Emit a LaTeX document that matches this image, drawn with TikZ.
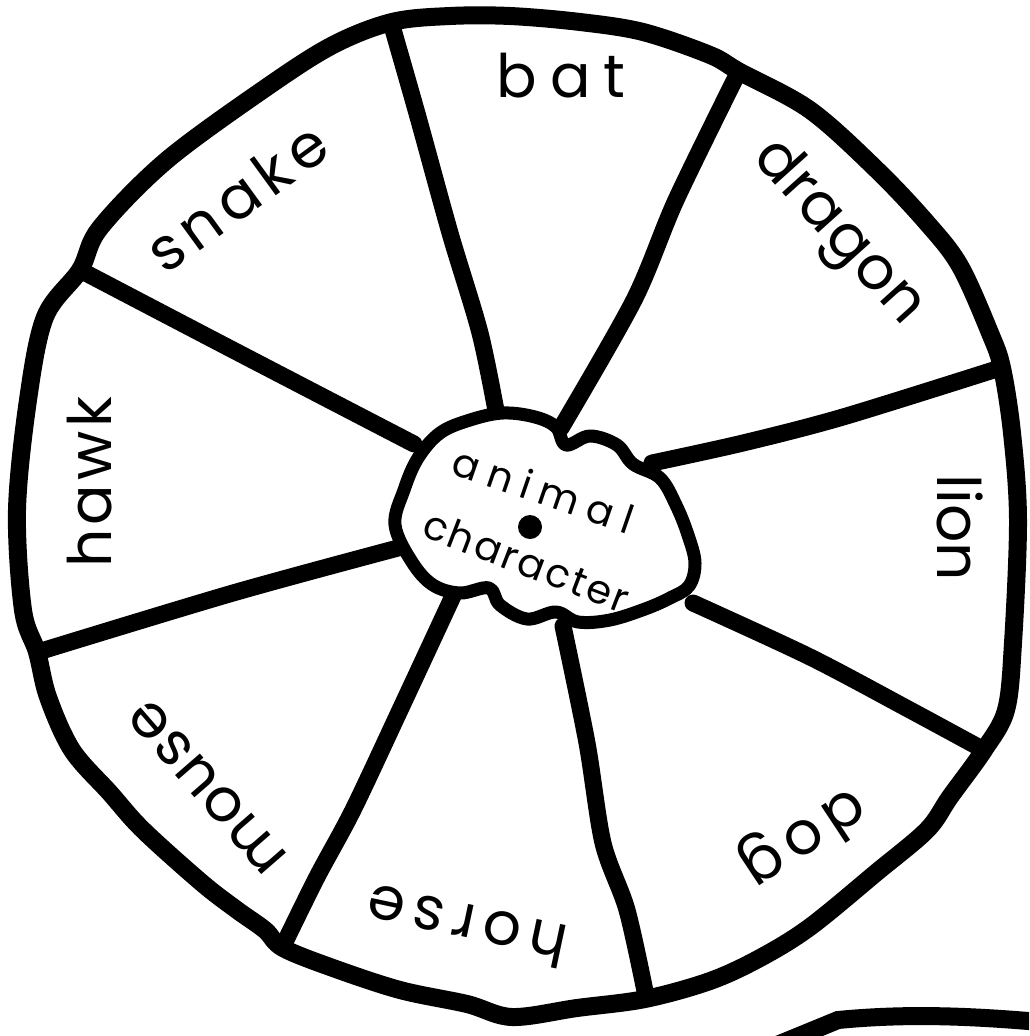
\documentclass[tikz,border=0pt]{standalone}
\usepackage{fontspec}
\setmainfont{Poppins}
\newcommand\wordsp[2]{{\addfontfeatures{LetterSpace=#1}#2}}
\begin{document}
\begin{tikzpicture}[x=1pt,y=-1pt,
  rim/.style={line width=18pt, line join=round},
  spoke/.style={line width=17pt, line cap=round, line join=round},
  cloudline/.style={line width=13pt, fill=white, line join=round},
  lbl/.style={font=\fontsize{60}{64}\selectfont, inner sep=0pt, text height=32pt, text depth=0pt},
  clbl/.style={font=\fontsize{40}{42}\selectfont, inner sep=0pt, text height=21pt, text depth=0pt}]
\fill[white] (0,0) rectangle (1029,1036);
\clip (0,0) rectangle (1029,1036);

% rim junctions (outer ends of spokes)
\coordinate (o1) at (392,26);
\coordinate (o2) at (738,73);
\coordinate (o3) at (1000,368);
\coordinate (o4) at (982,749);
\coordinate (o5) at (646,996);
\coordinate (o6) at (284,944);
\coordinate (o7) at (38,652);
\coordinate (o8) at (80,270);
% inner ends at the cloud
\coordinate (c1) at (497,416);
\coordinate (c2) at (561,428);
\coordinate (c3) at (652,463);
\coordinate (c4) at (693,603);
\coordinate (c5) at (563,626);
\coordinate (c6) at (453,596);
\coordinate (c7) at (398,548);
\coordinate (c8) at (414,444);
\coordinate (ctr) at (530,527);

% spokes
\draw[spoke] plot[smooth] coordinates {(o1) (418,117) (450,233) (480,333) (c1)};
\draw[spoke] plot[smooth] coordinates {(o2) (676,200) (634,300) (c2)};
\draw[spoke] plot[smooth] coordinates {(o3) (843,417) (743,443) (c3)};
\draw[spoke] plot[smooth] coordinates {(o4) (910,710) (810,657) (c4)};
\draw[spoke] plot[smooth] coordinates {(o5) (627,910) (603,843) (587,743) (c5)};
\draw[spoke] plot[smooth] coordinates {(o6) (317,877) (353,810) (400,710) (c6)};
\draw[spoke] plot[smooth] coordinates {(o7) (233,593) (c7)};
\draw[spoke] plot[smooth] coordinates {(o8) (233,350) (c8)};

% outer rim
\draw[rim] plot[smooth cycle, tension=0.55] coordinates {
 (392,22) (450,16) (510,16) (580,22) (643,32) (710,55) (740,72) (810,110)
 (877,170) (927,223) (960,266) (990,333) (1002,368) (1012,433) (1018,520)
 (1013,643) (1006,710) (984,750) (950,797) (927,830) (877,872) (810,927)
 (760,958) (710,981) (645,999) (577,1008) (512,1017) (467,1004) (400,990)
 (333,968) (283,948) (265,930) (237,910) (202,883) (143,830) (110,793)
 (72,750) (48,697) (37,652) (23,610) (17,510) (28,400) (45,317) (80,270)
 (100,228) (167,160) (267,87) (333,45)};

% partial shape at bottom right
\draw[line width=18pt] (760,1052) -- (838,1020) .. controls (900,1014) and (960,1015) .. (1040,1022);

% cloud
\draw[cloudline] plot[smooth cycle, tension=0.6] coordinates {
 (395,525) (404,490) (418,458) (440,433) (470,420) (503,413) (535,417)
 (556,427) (566,445) (590,436) (617,445) (633,464) (660,478) (676,505)
 (688,535) (695,563) (689,586) (670,598) (645,609) (610,620) (578,622)
 (556,612) (527,619) (500,605) (489,588) (460,593) (433,585) (412,562)};
\fill (ctr) circle (12);

% labels
\node[lbl] (bat) at (561,81) {\wordsp{21}{bat}};
\node[lbl, rotate=-48] (dragon) at (839,232) {\wordsp{2}{dragon}};
\node[lbl, rotate=-90] (lion) at (953,528) {\wordsp{0}{lion}};
\node[lbl, rotate=213.5] (dog) at (803,837) {\wordsp{14}{dog}};
\node[lbl, rotate=168] (horse) at (468,921) {\wordsp{15}{horse}};
\node[lbl, rotate=131] (mouse) at (208,787) {\wordsp{2}{mouse}};
\node[lbl, rotate=90] (hawk) at (95,482) {\wordsp{7}{hawk}};
\node[lbl, rotate=36] (snake) at (240,202) {\wordsp{12}{snake}};

\node[clbl, rotate=-19] (animal) at (542,494) {\wordsp{24}{animal}};
\node[clbl, rotate=-21] (character) at (525,565) {\wordsp{6}{character}};
\end{tikzpicture}
\end{document}
